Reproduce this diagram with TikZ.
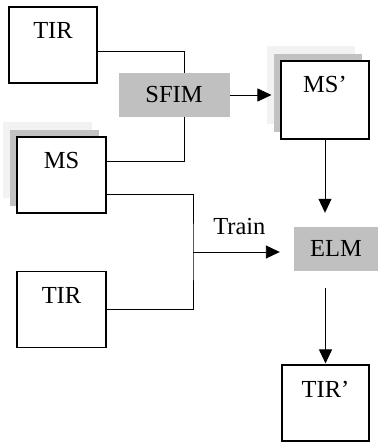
\documentclass[tikz,border=0pt]{standalone}
\usepackage{fontspec}
\setmainfont{Liberation Serif}
\usepackage{tikz}
\usetikzlibrary{positioning,arrows.meta,calc,shadows}
\definecolor{stepgray}{RGB}{192,192,192}
\definecolor{shadelight}{RGB}{242,242,242}
\definecolor{shademid}{RGB}{194,194,194}
\tikzset{
    image box/.style={rectangle, draw, fill=white, line width=1.1pt, inner sep=0pt, minimum width=88pt, text height=32pt, text depth=44pt},
    band box/.style={image box, general shadow={fill=shadelight, shadow xshift=-14pt, shadow yshift=15pt}, general shadow={fill=shademid, shadow xshift=-7pt, shadow yshift=7pt}},
    method box/.style={rectangle, fill=stepgray, inner sep=0pt, text height=16pt, text depth=0pt, minimum height=44pt},
    flow line/.style={line width=0.9pt},
    flow arrow/.style={flow line, -{Triangle[length=14pt,width=13pt]}}
}

\begin{document}
\begin{tikzpicture}[x=1pt, y=1pt, font=\fontsize{24.5}{29}\selectfont]
\useasboundingbox (0,0) rectangle (378,442);
\node[image box] (tir1) at (53,397) {TIR};
\node[method box, minimum width=111pt] (sfim) at (174,347) {SFIM};
\node[band box, minimum width=89pt] (ms) at (61.5,267) {MS};
\node[image box, minimum width=89pt, below=57pt of ms] (tir2) {TIR};
\node[band box, text depth=46pt] (msp) at (325,342) {MS’};
\node[method box, minimum width=84pt] (elm) at (336,193) {ELM};
\node[image box, minimum width=87pt] (tirp) at (325.5,39) {TIR’};
\coordinate (join) at (193,190);

\draw[flow line] ([yshift=-6pt]tir1.east) -| ([xshift=10pt]sfim.north);
\draw[flow line] ([xshift=10pt]sfim.south) |- ([yshift=14pt]ms.east);
\draw[flow arrow, shorten >=9pt] (sfim.east) -- (sfim.east -| msp.west);
\draw[flow arrow, shorten >=14pt] (msp.south) -- (msp.south |- elm.north);
\draw[flow line] ([yshift=-19pt]ms.east) -| (join) |- (tir2.east);
\draw[flow arrow, shorten >=14pt] (join) -- (join -| elm.west)
    node[pos=.46, above=17pt, inner sep=0pt] (train) {Train};
\draw[flow arrow, shorten <=17pt, shorten >=1pt] (tirp.north |- elm.south) -- (tirp.north);
\end{tikzpicture}
\end{document}
